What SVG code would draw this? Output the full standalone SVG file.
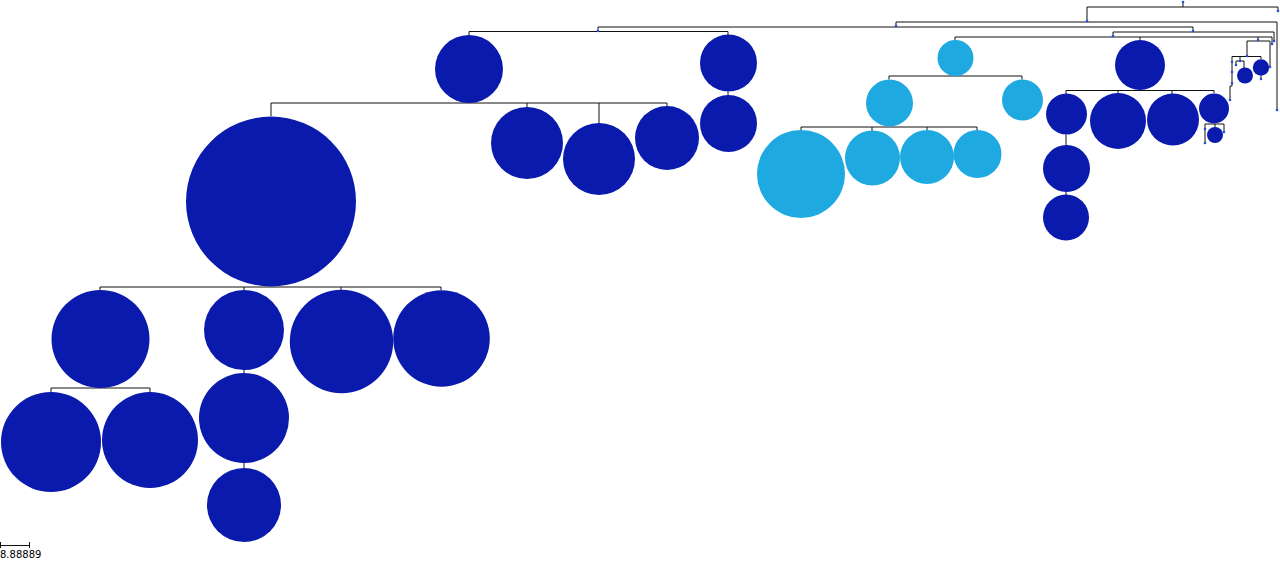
<svg xmlns="http://www.w3.org/2000/svg" width="1280" height="571" viewBox="0 0 1280 571">
<style>
.d{fill:#0a1aad}
.l{fill:#1ea9e1}
.t{fill:#2550d8}
.c{fill:none;stroke:#111;stroke-width:1}
.s{font-family:"DejaVu Sans",sans-serif;font-size:10px;fill:#000}
</style>
<rect width="1280" height="571" fill="#fff"/>
<g id="connectors" class="c">
<path d="M1183,2V7M1087,7H1278M1087,7V21M1278,7V11"/>
<path d="M896,22H1277M896,22V26M1277,22V110"/>
<path d="M598,27H1193M598,27V31M1193,27V31"/>
<path d="M469,31.5H728M469,31.5V35M728,31.5V35"/>
<path d="M271,103H667M271,103V116M527,103V107M599,103V123M667,103V106"/>
<path d="M728,91.5V95"/>
<path d="M100,287H441M100,287V290M244,287V290M341,287V290M441,287V290"/>
<path d="M51,388H150M51,388V392M150,388V392"/>
<path d="M244,369.5V373M244,463V468"/>
<path d="M1113,32H1274M1113,32V36M1274,32V41"/>
<path d="M955,37H1272M955,37V40M1140,37V40M1258,37V40M1272,37V44"/>
<path d="M889,76H1022M889,76V79.5M1022,76V79.5"/>
<path d="M801,127H977M801,127V130.5M872,127V131M927,127V130M977,127V130"/>
<path d="M1066,90.5H1214M1066,90.5V94M1118,90.5V93M1172,90.5V94M1214,90.5V93"/>
<path d="M1066,134.5V145M1066,192V195"/>
<path d="M1205,124H1224M1205,124V143M1215,124V127M1224,124V132"/>
<path d="M1247,41H1270M1247,41V56M1270,41V67"/>
<path d="M1232,56.5H1261M1232,56.5V83M1240,56.5V61M1261,56.5V59"/>
<path d="M1236,61H1244M1236,61V65M1244,61V68"/>
<path d="M1261,75.5V79M1232,83V86H1230V100"/>
</g>
<g id="n1"><circle class="d" cx="469" cy="69" r="34"/></g>
<g id="n2"><circle class="d" cx="728.5" cy="63" r="28.5"/></g>
<g id="n3"><circle class="d" cx="728.5" cy="123.5" r="28.5"/></g>
<g id="n4"><circle class="d" cx="271" cy="201.5" r="85"/></g>
<g id="n5"><circle class="d" cx="527" cy="143" r="36"/></g>
<g id="n6"><circle class="d" cx="599" cy="159" r="36"/></g>
<g id="n7"><circle class="d" cx="667" cy="138" r="32"/></g>
<g id="n8"><circle class="d" cx="100.5" cy="339" r="49"/></g>
<g id="n9"><circle class="d" cx="244" cy="330" r="40"/></g>
<g id="n10"><circle class="d" cx="341.5" cy="341.5" r="51.7"/></g>
<g id="n11"><circle class="d" cx="441.5" cy="338.5" r="48.3"/></g>
<g id="n12"><circle class="d" cx="51" cy="442" r="50"/></g>
<g id="n13"><circle class="d" cx="150" cy="440" r="48"/></g>
<g id="n14"><circle class="d" cx="244" cy="418" r="45"/></g>
<g id="n15"><circle class="d" cx="244" cy="505" r="37"/></g>
<g id="n16"><circle class="l" cx="955.5" cy="58" r="18"/></g>
<g id="n17"><circle class="l" cx="889.5" cy="103" r="23.5"/></g>
<g id="n18"><circle class="l" cx="1022.5" cy="100" r="20.5"/></g>
<g id="n19"><circle class="l" cx="801" cy="174" r="44"/></g>
<g id="n20"><circle class="l" cx="872.5" cy="158" r="27.5"/></g>
<g id="n21"><circle class="l" cx="927" cy="157" r="27"/></g>
<g id="n22"><circle class="l" cx="977.5" cy="154" r="24"/></g>
<g id="n23"><circle class="d" cx="1140" cy="65" r="25"/></g>
<g id="n24"><circle class="d" cx="1066.5" cy="114" r="20.5"/></g>
<g id="n25"><circle class="d" cx="1118" cy="121" r="28"/></g>
<g id="n26"><circle class="d" cx="1173" cy="119.5" r="26"/></g>
<g id="n27"><circle class="d" cx="1214" cy="108.5" r="15"/></g>
<g id="n28"><circle class="d" cx="1215" cy="135" r="8"/></g>
<g id="n29"><circle class="d" cx="1066.5" cy="168.5" r="23.5"/></g>
<g id="n30"><circle class="d" cx="1066" cy="217.5" r="23"/></g>
<g id="n31"><circle class="d" cx="1245" cy="75.5" r="8"/></g>
<g id="n32"><circle class="d" cx="1261" cy="67.5" r="8.2"/></g>
<g id="t1"><circle class="t" cx="1183" cy="2" r="1.3"/></g>
<g id="t2"><circle class="t" cx="1087" cy="21" r="1.3"/></g>
<g id="t3"><circle class="t" cx="1278" cy="11" r="1.3"/></g>
<g id="t4"><circle class="t" cx="896" cy="26" r="1.3"/></g>
<g id="t5"><circle class="t" cx="1277" cy="110" r="1.3"/></g>
<g id="t6"><circle class="t" cx="598" cy="31" r="1.3"/></g>
<g id="t7"><circle class="t" cx="1193" cy="31" r="1.3"/></g>
<g id="t8"><circle class="t" cx="1113" cy="36" r="1.3"/></g>
<g id="t9"><circle class="t" cx="1274" cy="41" r="1.3"/></g>
<g id="t10"><circle class="t" cx="1272" cy="44" r="1.3"/></g>
<g id="t11"><circle class="t" cx="1258" cy="40" r="1.3"/></g>
<g id="t12"><circle class="t" cx="1247" cy="56" r="1.3"/></g>
<g id="t13"><circle class="t" cx="1270" cy="67" r="1.3"/></g>
<g id="t14"><circle class="t" cx="1232" cy="62" r="1.3"/></g>
<g id="t15"><circle class="t" cx="1232" cy="72" r="1.3"/></g>
<g id="t16"><circle class="t" cx="1232" cy="83" r="1.3"/></g>
<g id="t17"><circle class="t" cx="1230" cy="100" r="1.3"/></g>
<g id="t18"><circle class="t" cx="1240" cy="61" r="1.3"/></g>
<g id="t19"><circle class="t" cx="1236" cy="65" r="1.3"/></g>
<g id="t20"><circle class="t" cx="1261" cy="79" r="1.3"/></g>
<g id="t21"><circle class="t" cx="1205" cy="129" r="1.3"/></g>
<g id="t22"><circle class="t" cx="1205" cy="143" r="1.3"/></g>
<g id="t23"><circle class="t" cx="1224" cy="132" r="1.3"/></g>
<g id="scale">
<path class="c" d="M0.5,545.5H29.5M0.5,542V548M29.5,542V548"/>
<text class="s" x="0" y="558">8.88889</text>
</g>
</svg>
